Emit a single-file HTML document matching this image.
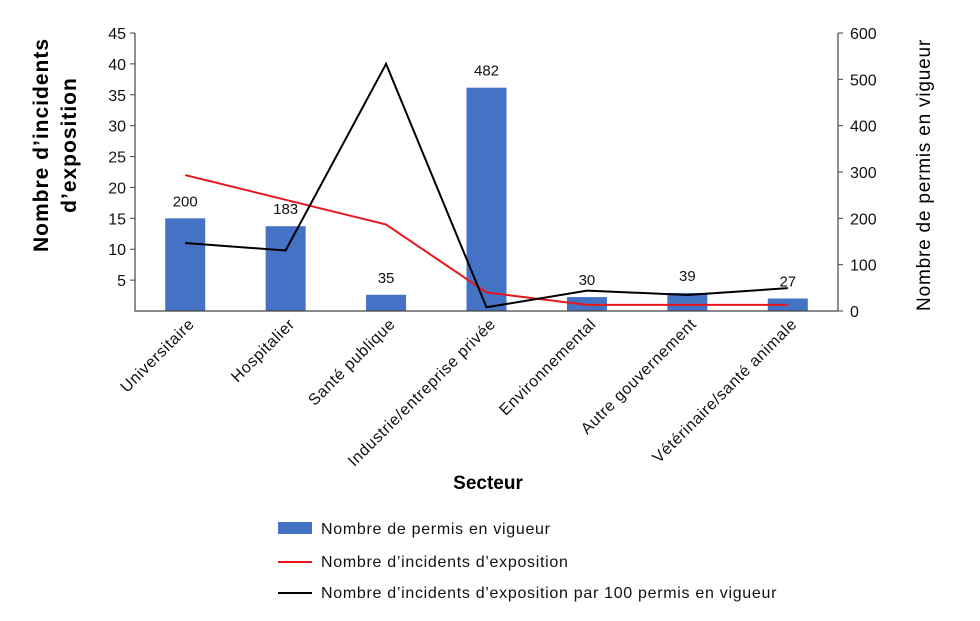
<!DOCTYPE html>
<html><head><meta charset="utf-8"><style>
body{margin:0;background:#fff;font-family:"Liberation Sans",sans-serif}
</style></head><body>
<svg id="chart" width="980" height="616" xmlns="http://www.w3.org/2000/svg" font-family="Liberation Sans, sans-serif">
<g id="g"></g>
<g font-size="16" fill="#111" letter-spacing="0.7">
 <rect x="278" y="522" width="34" height="12" fill="#4472c4"/>
 <text x="321" y="534">Nombre de permis en vigueur</text>
 <line x1="278" y1="562" x2="312" y2="562" stroke="#e8161b" stroke-width="2"/>
 <text x="321" y="567">Nombre d’incidents d’exposition</text>
 <line x1="278" y1="593" x2="312" y2="593" stroke="#000" stroke-width="2"/>
 <text x="321" y="598">Nombre d’incidents d’exposition par 100 permis en vigueur</text>
</g>
<text x="488" y="489" text-anchor="middle" font-size="19" font-weight="bold">Secteur</text>
<text transform="translate(48,145) rotate(-90)" text-anchor="middle" font-size="21" font-weight="bold" letter-spacing="1"><tspan x="0" dy="0">Nombre d’incidents</tspan><tspan x="0" dy="28">d’exposition</tspan></text>
<text transform="translate(930,175) rotate(-90)" text-anchor="middle" font-size="19" letter-spacing="0.8">Nombre de permis en vigueur</text>
</svg>
<script>
const categories=["Universitaire","Hospitalier","Santé publique","Industrie/entreprise privée","Environnemental","Autre gouvernement","Vétérinaire/santé animale"];
const permits=[200,183,35,482,30,39,27];
const incidents=[22,18,14,3,1,1,1];
const rate=[11,9.8,40,0.6,3.3,2.6,3.7];
const leftTicks=[5,10,15,20,25,30,35,40,45];
const rightTicks=[0,100,200,300,400,500,600];
const X0=135,X1=838,Y0=311,Y1=33;
const band=(X1-X0)/categories.length;
const xc=i=>X0+band*(i+0.5);
const yl=v=>Y0-(v/45)*(Y0-Y1);
const yr=v=>Y0-(v/600)*(Y0-Y1);
const NS="http://www.w3.org/2000/svg";
const g=document.getElementById('g');
function mk(t,a,txt){const e=document.createElementNS(NS,t);for(const k in a)e.setAttribute(k,a[k]);if(txt!=null)e.textContent=txt;g.appendChild(e);return e;}
permits.forEach((v,i)=>{
 const r=mk('rect',{x:xc(i)-20,y:yr(v),width:40,height:Y0-yr(v),fill:'#4472c4'});
 
 
 const t=mk('text',{x:xc(i),y:yr(v)-12,'text-anchor':'middle','font-size':15,fill:'#111'},String(v));
 
 
});
let ax=mk('path',{d:`M${X0},${Y1}V${Y0}H${X1}V${Y1}`,stroke:'#444',fill:'none','stroke-width':1.2});


leftTicks.forEach(v=>{
 mk('line',{x1:X0-5,x2:X0,y1:yl(v),y2:yl(v),stroke:'#444'});
 const t=mk('text',{x:X0-9,y:yl(v)+6,'text-anchor':'end','font-size':16,fill:'#111'},String(v));
 
 
});
rightTicks.forEach(v=>{
 mk('line',{x1:X1,x2:X1+5,y1:yr(v),y2:yr(v),stroke:'#444'});
 const t=mk('text',{x:X1+12,y:yr(v)+6,'font-size':16,fill:'#111'},String(v));
 
 
});
categories.forEach((c,i)=>{
 const t=mk('text',{transform:`translate(${xc(i)+10},${Y0+14}) rotate(-45)`,'text-anchor':'end','font-size':16,'letter-spacing':0.6,fill:'#111'},c);
 
 
});
const l1=mk('polyline',{points:incidents.map((v,i)=>xc(i)+','+yl(v)).join(' '),stroke:'#e8161b',fill:'none','stroke-width':2});


const l2=mk('polyline',{points:rate.map((v,i)=>xc(i)+','+yl(v)).join(' '),stroke:'#000',fill:'none','stroke-width':2});


</script>
</body></html>
